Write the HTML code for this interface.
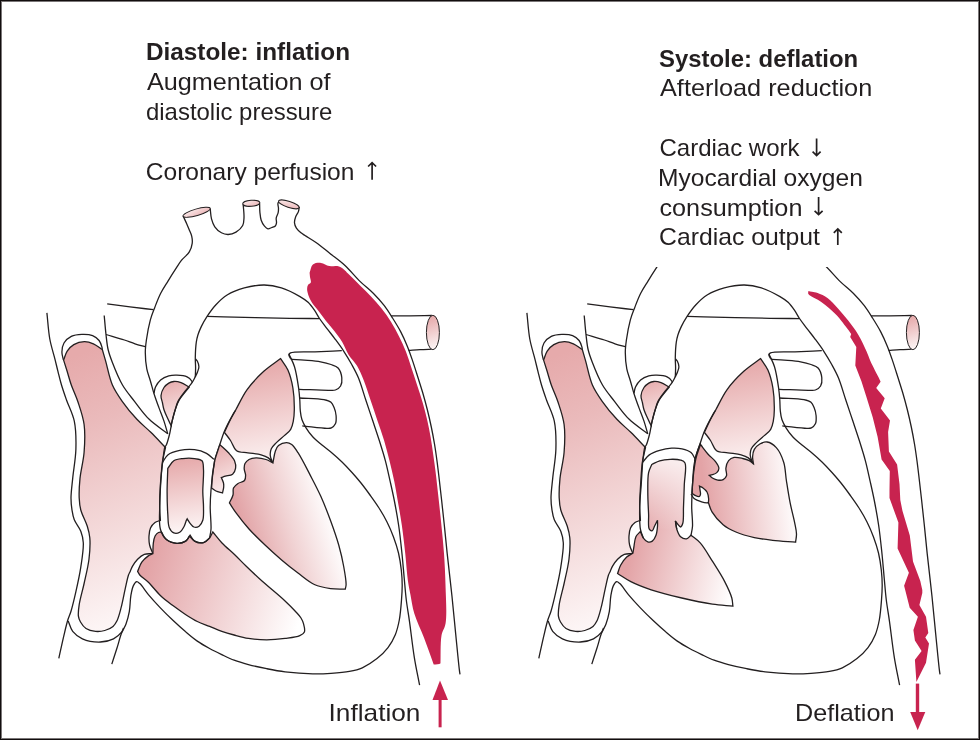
<!DOCTYPE html>
<html><head><meta charset="utf-8">
<style>
html,body{margin:0;padding:0;background:#fff;}
body{width:980px;height:740px;overflow:hidden;position:relative;font-family:"Liberation Sans",sans-serif;color:#231f20;}
#frame{position:absolute;left:0;top:0;width:978px;height:738px;border:1px solid #120d0e;box-shadow:inset 0 0 0 1px #7a7677;}
svg{position:absolute;left:0;top:0;will-change:transform;}
</style></head><body>
<svg width="980" height="740" viewBox="0 0 980 740">
<defs>
<linearGradient id="gRA" gradientUnits="userSpaceOnUse" x1="65" y1="360" x2="165" y2="610"><stop offset="0" stop-color="#e6aaab"/><stop offset="0.25" stop-color="#eababb"/><stop offset="1" stop-color="#fdf7f7"/></linearGradient>
<linearGradient id="gRV" gradientUnits="userSpaceOnUse" x1="145" y1="570" x2="300" y2="620"><stop offset="0" stop-color="#e3a3a6"/><stop offset="1" stop-color="#ffffff"/></linearGradient>
<linearGradient id="gLV" gradientUnits="userSpaceOnUse" x1="238" y1="512" x2="324" y2="486"><stop offset="0" stop-color="#e2a3a6"/><stop offset="0.5" stop-color="#f1d3d4"/><stop offset="1" stop-color="#ffffff"/></linearGradient>
<linearGradient id="gLA" gradientUnits="userSpaceOnUse" x1="262" y1="365" x2="280" y2="462"><stop offset="0" stop-color="#e6aaab"/><stop offset="1" stop-color="#fcf3f3"/></linearGradient>
<linearGradient id="gP2" gradientUnits="userSpaceOnUse" x1="215" y1="445" x2="235" y2="490"><stop offset="0" stop-color="#e6aaab"/><stop offset="1" stop-color="#fbf0f0"/></linearGradient>
<linearGradient id="gAV" gradientUnits="userSpaceOnUse" x1="180" y1="460" x2="190" y2="532"><stop offset="0" stop-color="#e6aaab"/><stop offset="1" stop-color="#fdf6f6"/></linearGradient>
<linearGradient id="gAPP" gradientUnits="userSpaceOnUse" x1="165" y1="380" x2="178" y2="425"><stop offset="0" stop-color="#e6aaab"/><stop offset="1" stop-color="#fbf0f0"/></linearGradient>
<linearGradient id="gCap" gradientUnits="userSpaceOnUse" x1="428" y1="318" x2="438" y2="348"><stop offset="0" stop-color="#e6aaab"/><stop offset="1" stop-color="#fdf6f6"/></linearGradient>
<linearGradient id="gRV2" gradientUnits="userSpaceOnUse" x1="625" y1="575" x2="730" y2="600"><stop offset="0" stop-color="#e3a3a6"/><stop offset="1" stop-color="#ffffff"/></linearGradient>
<linearGradient id="gValveTop" gradientUnits="userSpaceOnUse" x1="0" y1="462" x2="0" y2="530"><stop offset="0" stop-color="#ffffff" stop-opacity="0.75"/><stop offset="1" stop-color="#ffffff" stop-opacity="0"/></linearGradient>
<linearGradient id="gLV2" gradientUnits="userSpaceOnUse" x1="705" y1="500" x2="795" y2="490"><stop offset="0" stop-color="#e3a3a6"/><stop offset="1" stop-color="#ffffff"/></linearGradient>
<linearGradient id="gTop1" gradientUnits="objectBoundingBox" x1="0" y1="0" x2="1" y2="1"><stop offset="0" stop-color="#fcf0f0"/><stop offset="1" stop-color="#eab0b2"/></linearGradient>
<linearGradient id="gTop2" gradientUnits="objectBoundingBox" x1="0" y1="0" x2="1" y2="1"><stop offset="0" stop-color="#fcf0f0"/><stop offset="1" stop-color="#eab0b2"/></linearGradient>
<linearGradient id="gTop3" gradientUnits="objectBoundingBox" x1="0" y1="0" x2="1" y2="1"><stop offset="0" stop-color="#fcf0f0"/><stop offset="1" stop-color="#eab0b2"/></linearGradient>

<clipPath id="clipR"><rect x="480" y="267" width="500" height="480"/></clipPath>
</defs>
<g id="common">
<path d="M63.60 360.10C64.80 357.10 65.47 353.70 67.20 351.10C68.89 348.55 71.10 346.15 73.80 344.60C76.74 342.91 81.00 341.76 84.40 341.70C87.51 341.64 90.51 342.58 93.40 343.80C96.49 345.10 99.33 347.60 102.30 349.50C103.40 353.30 104.31 356.39 105.60 360.90C107.47 367.44 109.34 377.93 112.40 385.00C115.07 391.16 118.38 395.87 122.20 401.30C126.42 407.30 131.88 413.94 136.90 419.30C141.44 424.15 146.16 427.74 150.80 432.30C155.69 437.11 160.60 442.43 165.50 447.50C164.47 452.33 163.17 456.78 162.40 462.00C161.52 468.02 161.23 474.65 160.80 481.60C160.31 489.49 159.67 499.78 159.70 506.90C159.72 512.10 160.17 515.90 160.40 520.40C158.60 521.10 156.59 521.35 155.00 522.50C153.24 523.78 151.50 525.85 150.50 528.00C149.43 530.30 149.16 533.24 149.00 536.00C148.83 538.90 148.96 542.07 149.60 545.00C150.25 547.97 151.80 550.80 152.90 553.70C150.03 553.90 146.87 553.36 144.30 554.30C141.78 555.22 139.53 557.27 137.60 559.20C135.67 561.13 133.98 563.71 132.70 565.90C131.61 567.77 131.03 569.57 130.20 571.40C129.63 572.60 129.07 573.37 128.50 575.00C127.42 578.09 126.34 583.91 125.20 588.90C123.88 594.69 122.61 602.04 121.10 607.70C119.83 612.46 118.66 617.34 117.00 620.70C115.82 623.10 114.82 624.83 113.00 626.40C110.91 628.20 107.70 629.67 104.80 630.50C101.87 631.34 98.59 631.71 95.50 631.40C92.32 631.08 88.55 630.18 86.00 628.50C83.64 626.94 81.79 624.23 80.50 622.00C79.40 620.08 78.72 618.43 78.40 616.10C77.97 612.96 78.55 609.06 79.20 604.70C80.10 598.69 82.52 590.83 84.10 583.50C85.79 575.64 88.07 566.91 89.00 559.00C89.86 551.71 90.33 543.77 89.80 537.80C89.41 533.36 88.56 530.41 87.30 526.30C85.77 521.28 82.13 515.10 80.80 510.00C79.69 505.77 79.41 502.50 79.20 498.00C78.94 492.27 79.31 485.39 80.00 478.40C80.80 470.28 83.41 461.08 84.10 452.20C84.81 443.12 85.26 433.18 84.10 424.50C83.04 416.54 80.29 408.92 78.00 402.00C75.97 395.88 73.17 390.38 71.30 385.00C69.65 380.28 68.53 375.81 67.20 371.50C65.97 367.54 64.80 363.90 63.60 360.10Z" fill="url(#gRA)" stroke="#231f20" stroke-width="1.3" />
<path d="M63.40 360.00C62.90 357.30 61.83 354.66 61.90 351.90C61.97 349.00 62.49 345.55 64.00 343.00C65.56 340.35 68.41 337.84 71.30 336.40C74.33 334.90 78.35 334.53 81.90 334.40C85.45 334.27 89.61 334.41 92.60 335.60C95.20 336.64 97.54 338.51 99.10 340.50C100.56 342.36 101.41 345.32 101.90 347.00C102.19 348.01 102.17 348.67 102.30 349.50" fill="none" stroke="#231f20" stroke-width="1.3" />
<path d="M280.60 358.60C283.03 362.40 285.93 365.60 287.90 370.00C290.21 375.17 291.83 381.64 292.90 388.00C294.07 394.91 294.38 403.91 294.30 410.00C294.24 414.33 293.98 417.71 293.30 421.10C292.70 424.08 292.15 426.92 290.70 429.30C289.25 431.69 286.82 433.32 284.60 435.40C282.10 437.74 278.73 440.21 276.40 442.60C274.41 444.64 272.31 446.43 271.30 448.70C270.34 450.85 270.06 453.45 270.30 455.80C270.55 458.22 272.03 460.60 272.90 463.00C271.37 461.30 270.18 459.25 268.30 457.90C266.29 456.46 263.92 455.61 261.10 454.80C257.42 453.75 252.12 453.51 247.90 452.80C243.98 452.14 239.49 452.71 236.60 450.70C233.66 448.66 232.62 443.67 230.50 440.50C228.54 437.56 226.43 435.03 224.40 432.30C226.27 428.37 228.07 424.29 230.00 420.50C231.84 416.87 233.46 414.07 235.70 410.00C238.83 404.31 242.53 395.94 247.10 389.60C251.76 383.12 257.72 376.89 263.50 371.60C268.93 366.64 274.90 362.93 280.60 358.60Z" fill="url(#gLA)" stroke="#231f20" stroke-width="1.3" />
<path d="M189.20 387.10C186.47 385.60 183.72 383.52 181.00 382.60C178.62 381.79 176.05 381.34 173.90 381.50C172.04 381.64 170.38 382.19 168.80 383.10C167.06 384.11 165.26 385.63 164.00 387.50C162.55 389.66 161.21 392.93 161.00 395.60C160.81 398.09 162.00 400.61 162.50 403.00C162.97 405.24 163.18 407.22 163.90 409.50C164.75 412.18 166.26 415.24 167.50 418.00C168.70 420.67 169.97 423.20 171.20 425.80C171.47 424.43 171.60 423.42 172.00 421.70C172.70 418.71 174.00 413.30 175.30 409.50C176.50 406.01 177.45 403.04 179.40 399.70C181.79 395.61 185.93 391.30 189.20 387.10Z" fill="url(#gAPP)" stroke="#231f20" stroke-width="1.3" />
<path d="M154.00 393.30C154.50 391.23 154.56 389.15 155.50 387.10C156.60 384.70 158.42 381.86 160.60 380.00C162.83 378.10 166.00 376.69 168.80 375.90C171.44 375.16 174.05 375.09 176.90 375.20C180.11 375.33 184.50 375.65 187.10 376.90C189.11 377.86 190.96 379.86 191.70 381.00C192.08 381.59 192.03 382.07 192.20 382.60" fill="none" stroke="#231f20" stroke-width="1.3" />
<path d="M167.80 434.00C166.50 429.63 165.36 425.23 163.90 420.90C162.43 416.53 160.61 412.31 159.00 407.90C157.34 403.35 155.56 398.58 154.10 394.00C152.70 389.62 151.64 385.26 150.40 381.00C149.20 376.87 147.64 373.21 146.80 368.80C145.84 363.78 145.31 357.49 145.30 352.40C145.29 347.98 145.75 344.60 146.40 340.00C147.23 334.13 148.73 325.88 150.30 320.10C151.56 315.49 152.97 312.13 154.60 307.90C156.40 303.23 158.39 297.87 160.70 293.30C162.89 288.97 165.45 285.25 168.00 281.10C170.70 276.72 174.03 271.48 176.50 267.70C178.34 264.89 179.46 262.85 181.40 260.40C183.63 257.59 187.48 254.94 189.30 251.90C190.90 249.23 191.84 246.16 192.20 243.40C192.53 240.91 192.22 238.39 191.70 236.10C191.21 233.94 190.11 232.00 189.30 230.00C188.51 228.04 187.80 226.25 186.90 224.20C185.86 221.83 184.57 219.13 183.40 216.60" fill="none" stroke="#231f20" stroke-width="1.3" />
<path d="M210.20 208.60C210.63 212.03 210.66 215.75 211.50 218.90C212.26 221.76 213.18 224.50 214.80 226.80C216.46 229.15 219.02 231.52 221.40 232.80C223.49 233.93 225.78 234.55 228.10 234.50C230.63 234.44 233.63 233.51 236.00 232.10C238.53 230.59 241.38 228.04 242.70 225.50C243.91 223.16 243.85 220.57 244.00 217.60C244.19 213.79 243.47 208.87 243.20 204.50" fill="none" stroke="#231f20" stroke-width="1.3" />
<path d="M259.60 203.60C259.70 206.47 259.62 209.39 259.90 212.20C260.17 214.92 260.37 217.79 261.20 220.20C261.96 222.42 263.21 224.70 264.50 226.20C265.52 227.38 266.67 228.59 267.90 228.80C269.11 229.00 270.54 227.98 271.80 227.50C273.01 227.04 274.52 226.81 275.30 226.00C276.03 225.24 276.32 224.06 276.50 222.90C276.71 221.52 275.98 219.79 276.20 218.20C276.45 216.46 277.72 214.63 278.10 212.90C278.44 211.34 278.53 209.85 278.50 208.30C278.47 206.72 277.67 204.73 277.90 203.50C278.06 202.66 278.63 202.17 279.00 201.50" fill="none" stroke="#231f20" stroke-width="1.3" />
<path d="M299.30 206.90C299.00 208.47 298.95 210.02 298.40 211.60C297.78 213.38 296.25 215.11 295.60 217.00C294.95 218.88 294.35 221.01 294.50 222.90C294.65 224.73 295.38 226.60 296.40 228.20C297.49 229.92 299.46 231.53 301.00 232.80C302.33 233.89 303.33 234.40 305.00 235.50C307.75 237.30 312.18 239.80 316.00 242.50C320.46 245.66 325.26 249.74 330.00 253.50C334.92 257.40 340.15 261.03 345.00 265.50C350.17 270.27 355.03 276.56 360.00 281.40C364.53 285.81 369.36 289.34 373.50 293.50C377.42 297.45 381.08 301.53 384.30 305.70C387.34 309.64 389.75 313.61 392.40 317.80C395.16 322.17 398.03 326.70 400.50 331.40C403.00 336.16 405.26 341.22 407.30 346.20C409.32 351.12 410.97 356.04 412.70 361.10C414.47 366.30 416.12 371.69 417.80 377.00C419.49 382.32 421.22 387.57 422.80 393.00C424.42 398.57 425.98 404.32 427.40 410.00C428.81 415.65 430.11 421.32 431.30 427.00C432.48 432.66 433.55 438.32 434.50 444.00C435.45 449.66 436.23 455.25 437.00 461.00C437.80 466.91 438.46 472.77 439.20 479.00C440.00 485.73 440.79 492.69 441.60 500.00C442.49 507.97 443.40 516.38 444.30 525.00C445.26 534.21 446.08 543.11 447.20 553.60C448.57 566.46 450.56 582.77 452.00 596.50C453.33 609.15 454.38 620.84 455.60 633.00C456.82 645.14 458.50 662.89 459.30 669.40C459.59 671.79 459.77 672.67 460.00 674.30" fill="none" stroke="#231f20" stroke-width="1.3" />
<path d="M195.30 376.90C195.40 373.93 195.59 371.08 195.60 368.00C195.61 364.67 195.23 361.40 195.30 357.60C195.38 352.97 195.71 346.35 196.30 342.20C196.71 339.33 197.13 337.47 197.90 335.00C198.77 332.23 199.98 329.33 201.40 326.40C202.98 323.14 204.88 319.77 207.10 316.40C209.57 312.65 212.43 308.52 215.70 305.00C219.07 301.37 222.65 297.77 227.10 295.00C232.03 291.94 238.24 289.56 244.30 287.90C250.61 286.17 257.90 284.92 264.30 285.00C270.23 285.07 275.70 286.12 281.40 287.90C287.60 289.84 295.16 293.80 300.00 296.60C303.36 298.55 305.69 300.04 308.10 302.30C310.57 304.62 312.67 307.63 314.60 310.40C316.45 313.04 317.63 315.72 319.50 318.50C321.63 321.66 324.29 324.99 326.80 328.30C329.42 331.75 332.19 335.16 334.90 338.80C337.76 342.64 340.76 346.62 343.50 350.80C346.33 355.11 349.10 359.75 351.60 364.30C354.05 368.76 356.26 372.66 358.40 377.80C361.06 384.20 363.38 392.77 365.80 400.00C368.11 406.92 370.35 413.54 372.60 420.30C374.85 427.04 377.16 433.74 379.30 440.50C381.43 447.24 383.59 454.00 385.40 460.80C387.19 467.54 388.61 474.45 390.10 481.10C391.54 487.51 392.87 493.25 394.20 500.00C395.72 507.74 397.35 516.49 398.60 525.00C399.90 533.81 400.86 543.08 401.80 552.00C402.72 560.74 403.42 569.70 404.20 578.00C404.92 585.64 405.42 592.78 406.30 600.00C407.16 607.04 408.28 612.89 409.40 620.80C410.88 631.26 412.47 645.97 414.30 657.30C415.91 667.25 417.83 675.90 419.60 685.20" fill="none" stroke="#231f20" stroke-width="1.3" />
<path d="M195.50 359.00C196.17 359.83 196.97 360.45 197.50 361.50C198.19 362.86 198.90 364.96 198.90 366.70C198.90 368.46 198.10 370.29 197.50 372.00C196.90 373.69 196.03 375.27 195.30 376.90" fill="none" stroke="#231f20" stroke-width="1.3" />
<path d="M195.30 376.90C194.10 378.97 193.18 380.96 191.70 383.10C189.91 385.69 187.29 388.30 185.10 391.20C182.72 394.36 179.67 398.08 178.00 401.40C176.62 404.15 176.20 406.51 175.30 409.50C174.20 413.14 172.95 417.61 172.00 421.70C171.05 425.77 170.58 430.04 169.60 434.00C168.66 437.79 167.34 442.85 166.30 445.00C165.82 445.99 165.32 445.95 164.90 447.00C163.84 449.65 163.37 457.20 162.60 462.30" fill="none" stroke="#231f20" stroke-width="1.3" />
<path d="M235.70 410.00C234.67 411.67 233.82 412.82 232.60 415.00C230.45 418.84 226.61 426.07 224.40 431.30C222.46 435.89 221.30 440.20 219.80 444.60C218.33 448.93 216.41 454.55 215.50 457.50C215.03 459.03 214.83 459.83 214.50 461.00" fill="none" stroke="#231f20" stroke-width="1.3" />
<path d="M104.20 315.50C104.80 321.83 105.30 328.55 106.00 334.50C106.62 339.80 107.01 344.80 108.10 349.50C109.10 353.82 110.30 357.03 112.10 361.70C114.64 368.28 118.49 378.11 122.50 385.00C126.07 391.13 130.22 395.79 134.50 401.30C139.08 407.21 143.69 413.93 149.20 419.30C154.70 424.66 161.40 428.77 167.50 433.50" fill="none" stroke="#231f20" stroke-width="1.3" />
<path d="M46.90 312.90C47.87 321.60 48.32 330.89 49.80 339.00C51.12 346.24 53.52 353.37 55.00 359.30C56.15 363.91 56.94 367.42 58.00 371.60C59.10 375.98 60.14 380.43 61.50 385.00C62.95 389.88 64.60 394.58 66.50 400.00C68.77 406.47 72.70 413.53 74.30 421.20C76.07 429.72 76.14 439.61 75.90 449.00C75.65 458.67 73.56 469.59 72.70 478.40C72.00 485.59 71.01 492.26 71.00 498.00C70.99 502.49 71.40 506.22 72.00 510.00C72.55 513.45 73.01 516.50 74.30 519.80C75.78 523.56 79.29 527.27 80.80 531.20C82.23 534.92 83.04 538.13 83.30 542.70C83.67 549.30 82.02 558.99 80.80 567.10C79.56 575.29 77.63 583.91 75.90 591.60C74.34 598.52 72.59 605.99 71.00 611.20C69.91 614.75 68.85 616.59 67.80 620.00C66.40 624.57 65.09 630.44 63.70 636.30C62.09 643.10 60.43 651.03 58.80 658.40" fill="none" stroke="#231f20" stroke-width="1.3" />
<path d="M68.20 621.00C69.70 624.47 70.41 628.47 72.70 631.40C75.08 634.44 78.42 637.05 82.40 638.80C87.28 640.94 94.89 642.18 100.40 642.00C105.13 641.85 109.82 640.63 113.50 638.80C116.74 637.19 119.95 634.34 121.60 632.20C122.70 630.78 122.87 629.40 123.50 628.00" fill="none" stroke="#231f20" stroke-width="1.3" />
<path d="M111.80 664.10C113.53 658.73 115.34 653.27 117.00 648.00C118.60 642.94 119.91 637.40 121.60 633.10C122.96 629.64 124.76 627.33 126.00 624.00C127.39 620.27 128.50 616.12 129.30 611.70C130.21 606.68 130.07 600.12 130.90 595.40C131.55 591.69 132.15 588.03 133.40 585.60C134.29 583.88 135.53 581.89 136.70 581.70C137.69 581.54 138.62 582.55 139.80 583.60C142.11 585.66 145.21 590.80 148.40 594.60C152.04 598.93 156.46 603.77 160.60 608.10C164.63 612.33 168.76 616.39 172.90 620.30C176.93 624.11 180.98 627.80 185.10 631.30C189.12 634.72 193.12 638.19 197.30 641.10C201.30 643.89 205.46 646.23 209.60 648.50C213.63 650.72 217.71 652.65 221.80 654.60C225.87 656.55 229.79 658.56 234.10 660.20C238.63 661.92 243.31 663.25 248.40 664.60C254.10 666.11 260.58 667.50 266.70 668.70C272.81 669.90 278.33 670.99 285.10 671.80C293.35 672.79 304.44 673.61 312.70 673.80C319.42 673.95 324.90 673.70 331.00 673.30C337.13 672.90 343.85 672.45 349.40 671.40C354.12 670.50 358.00 669.70 362.30 667.80C367.20 665.64 372.63 662.08 377.00 658.60C381.14 655.30 384.93 651.64 388.00 647.60C391.00 643.66 393.42 639.26 395.30 634.70C397.20 630.07 398.29 625.32 399.30 620.00C400.46 613.89 401.02 606.20 401.50 600.00C401.92 594.65 402.23 590.00 402.20 585.00C402.17 580.00 401.88 575.14 401.30 570.00C400.68 564.50 399.81 558.54 398.50 553.00C397.20 547.54 395.43 542.20 393.50 537.00C391.59 531.87 389.43 526.85 387.00 522.00C384.59 517.18 381.85 512.52 379.00 508.00C376.18 503.52 373.04 499.22 370.00 495.00C367.04 490.89 364.06 486.82 361.00 483.00C358.06 479.33 355.13 475.96 352.00 472.50C348.80 468.96 345.40 465.30 342.00 462.00C338.73 458.82 335.38 455.86 332.00 453.00C328.71 450.20 325.24 447.72 322.00 445.00C318.81 442.32 315.39 439.72 312.70 436.80C310.18 434.07 308.04 431.08 306.20 428.10C304.47 425.30 302.89 422.45 301.90 419.50C300.95 416.67 300.65 413.87 300.30 410.80C299.91 407.41 300.07 403.69 299.80 400.00C299.52 396.10 299.26 392.55 298.60 388.00C297.71 381.89 296.41 372.84 294.50 366.70C292.96 361.74 290.70 358.03 288.80 353.70" fill="none" stroke="#231f20" stroke-width="1.3" />
<path d="M107.20 303.90C114.80 304.87 122.35 305.84 130.00 306.80C137.75 307.77 145.60 308.73 153.40 309.70" fill="none" stroke="#231f20" stroke-width="1.3" />
<path d="M207.10 316.40C223.17 316.80 240.55 317.27 255.30 317.60C267.81 317.88 278.92 318.13 290.00 318.30C300.18 318.45 309.53 318.50 319.30 318.60" fill="none" stroke="#231f20" stroke-width="1.3" />
<path d="M391.10 315.80C397.40 315.80 403.46 315.84 410.00 315.80C417.06 315.75 424.67 315.60 432.00 315.50" fill="none" stroke="#231f20" stroke-width="1.3" />
<path d="M106.00 334.50C112.13 336.33 119.13 338.27 124.40 340.00C128.44 341.33 131.43 342.67 135.00 343.80C138.56 344.93 142.20 345.80 145.80 346.80" fill="none" stroke="#231f20" stroke-width="1.3" />
<path d="M290.50 358.50C289.97 357.33 288.79 355.99 288.90 355.00C288.99 354.18 289.44 353.46 290.50 352.90C293.74 351.20 306.65 352.16 315.00 351.80C323.73 351.42 332.87 351.07 341.80 350.70" fill="none" stroke="#231f20" stroke-width="1.3" />
<path d="M408.60 350.30C412.40 350.07 416.11 349.78 420.00 349.60C424.07 349.41 428.33 349.33 432.50 349.20" fill="none" stroke="#231f20" stroke-width="1.3" />
<ellipse cx="432.9" cy="332.5" rx="6.5" ry="17.2" fill="url(#gCap)" stroke="#231f20" stroke-width="1"/>
<path d="M292.00 359.40C296.10 359.67 299.92 359.84 304.30 360.20C309.35 360.61 315.80 360.95 320.60 361.80C324.48 362.49 327.92 363.35 331.00 364.50C333.65 365.48 336.34 366.06 338.10 368.00C340.13 370.24 341.46 374.64 341.80 377.80C342.10 380.61 341.82 383.92 340.60 386.00C339.52 387.85 337.36 389.28 335.40 390.00C333.43 390.72 331.79 390.28 328.80 390.30C322.44 390.34 308.93 389.63 299.00 389.30" fill="none" stroke="#231f20" stroke-width="1.3" />
<path d="M299.20 398.00C307.43 398.57 318.21 398.49 323.90 399.70C327.04 400.37 329.28 400.86 331.00 402.30C332.55 403.60 333.28 405.58 334.10 407.60C335.06 409.96 335.89 412.98 336.10 415.70C336.31 418.38 336.38 421.70 335.40 423.80C334.58 425.55 332.91 427.07 331.40 427.80C330.07 428.44 329.06 428.29 327.00 428.30C322.11 428.33 310.53 426.63 302.30 425.80" fill="none" stroke="#231f20" stroke-width="1.3" />
<path d="M290.50 358.50C291.00 358.80 291.50 359.10 292.00 359.40" fill="none" stroke="#231f20" stroke-width="1.3" />
<ellipse cx="196.6" cy="212.3" rx="14.2" ry="3.3" transform="rotate(-16.2 196.6 212.3)" fill="url(#gTop1)" stroke="#231f20" stroke-width="1"/>
<ellipse cx="251.3" cy="203.3" rx="8.6" ry="3" transform="rotate(-4 251.3 203.3)" fill="url(#gTop2)" stroke="#231f20" stroke-width="1"/>
<ellipse cx="288.8" cy="204.3" rx="10.8" ry="3" transform="rotate(17.8 288.8 204.3)" fill="url(#gTop3)" stroke="#231f20" stroke-width="1"/>

</g>
<path d="M152.90 553.70C151.27 554.50 149.63 554.94 148.00 556.10C145.94 557.56 143.50 559.78 141.80 562.20C139.97 564.81 139.00 568.33 137.60 571.40C138.33 572.60 138.68 573.69 139.80 575.00C141.63 577.14 145.39 579.38 148.40 582.30C152.23 586.01 156.36 591.81 160.60 595.80C164.55 599.51 168.76 602.50 172.90 605.60C176.93 608.62 180.98 611.52 185.10 614.20C189.12 616.81 193.14 619.44 197.30 621.50C201.31 623.48 205.51 624.76 209.60 626.40C213.68 628.03 217.69 629.86 221.80 631.30C225.86 632.72 229.83 633.85 234.10 635.00C238.67 636.23 243.31 637.60 248.40 638.40C254.09 639.29 260.59 639.80 266.70 639.80C272.82 639.80 279.33 639.17 285.10 638.40C290.30 637.71 296.41 637.17 299.80 635.60C301.93 634.62 303.69 633.63 304.40 631.90C305.24 629.86 304.15 626.14 303.50 623.70C302.93 621.58 302.14 619.85 301.00 618.00C299.72 615.93 298.09 614.29 296.00 612.00C292.92 608.63 288.69 604.36 284.00 600.00C277.86 594.29 268.69 587.02 262.00 581.00C256.18 575.77 250.80 570.65 246.00 566.00C241.96 562.08 238.86 558.71 235.00 555.00C230.89 551.05 225.85 547.04 222.00 543.00C218.54 539.36 215.87 535.67 212.80 532.00C211.70 534.03 211.00 536.36 209.50 538.10C207.94 539.91 205.84 542.03 203.50 542.60C200.94 543.22 196.88 542.48 194.60 541.10C192.53 539.85 191.60 537.17 190.10 535.20C188.63 537.17 187.73 539.75 185.70 541.10C183.43 542.60 179.86 543.45 176.80 543.30C173.44 543.13 168.99 541.66 166.40 539.60C164.05 537.74 163.13 534.53 161.50 532.00C160.50 532.17 159.45 532.00 158.50 532.50C157.29 533.13 155.94 534.48 155.10 536.00C154.05 537.89 153.68 540.63 153.30 543.30C152.86 546.44 153.03 550.23 152.90 553.70Z" fill="url(#gRV)" stroke="#231f20" stroke-width="1.3" />
<path d="M229.40 502.90C230.60 500.27 232.33 497.61 233.00 495.00C233.60 492.65 232.61 489.94 233.50 488.00C234.35 486.15 236.24 484.73 238.00 483.50C239.87 482.20 243.26 482.07 244.50 480.50C245.59 479.11 245.63 476.87 245.60 475.00C245.57 473.04 244.28 470.96 244.20 469.00C244.12 467.13 244.21 465.08 245.00 463.50C245.80 461.91 247.32 460.43 249.00 459.50C250.89 458.45 253.45 457.98 256.00 457.90C259.03 457.80 263.04 458.54 266.00 459.50C268.59 460.34 270.60 461.83 272.90 463.00C273.73 459.00 274.21 454.14 275.40 451.00C276.25 448.76 276.89 446.96 278.50 445.60C280.40 443.99 284.21 442.58 286.60 442.60C288.50 442.62 290.07 443.38 291.70 444.60C293.93 446.27 295.71 449.21 298.00 452.70C301.60 458.20 306.34 467.70 310.20 475.10C313.92 482.23 317.48 488.91 320.80 496.30C324.30 504.10 327.59 512.59 330.60 520.80C333.58 528.92 336.56 537.38 338.80 545.30C340.85 552.57 342.46 559.69 343.70 566.50C344.83 572.72 346.18 580.47 346.10 584.50C346.06 586.54 345.57 587.57 345.30 589.10C340.40 588.93 335.59 589.30 330.60 588.60C325.27 587.85 319.52 586.89 314.30 584.50C308.62 581.91 303.38 577.12 298.00 573.10C292.48 568.97 286.99 564.58 281.60 560.00C276.09 555.32 270.67 550.40 265.30 545.30C259.80 540.08 254.00 534.57 249.00 529.00C244.24 523.69 239.42 517.52 235.90 512.70C233.26 509.09 231.57 506.17 229.40 502.90Z" fill="url(#gLV)" stroke="#231f20" stroke-width="1.3" />
<path d="M219.80 444.60C222.70 447.33 225.96 449.96 228.50 452.80C230.84 455.41 233.45 458.13 234.60 460.90C235.57 463.25 235.96 465.85 235.60 468.10C235.25 470.27 234.23 472.85 232.60 474.20C230.89 475.62 227.46 475.59 225.40 476.20C223.84 476.66 222.67 477.07 221.30 477.50C222.03 479.33 223.12 481.28 223.50 483.00C223.81 484.41 223.81 485.54 223.70 487.00C223.57 488.81 222.90 491.00 222.50 493.00C220.33 492.33 217.90 491.91 216.00 491.00C214.32 490.19 213.07 489.00 211.60 488.00C211.83 484.07 211.89 480.07 212.30 476.20C212.70 472.41 213.45 468.17 214.00 465.00C214.41 462.66 214.57 461.34 215.20 458.90C216.18 455.11 218.27 449.37 219.80 444.60Z" fill="url(#gP2)" stroke="#231f20" stroke-width="1.3" />
<path d="M167.80 468.30C169.80 465.80 171.28 462.42 173.80 460.80C176.27 459.22 179.49 458.99 182.70 458.60C186.35 458.16 191.13 458.10 194.60 458.60C197.39 459.01 200.50 459.10 202.00 460.80C203.63 462.64 203.25 466.05 203.50 469.70C203.89 475.44 202.75 485.31 202.80 492.00C202.84 497.47 203.51 502.07 203.50 506.90C203.49 511.49 203.89 516.84 202.80 520.30C202.01 522.79 200.74 525.12 199.10 526.20C197.67 527.14 195.40 527.48 193.90 527.00C192.40 526.52 191.21 524.66 190.10 523.30C188.98 521.93 188.17 520.30 187.20 518.80C186.93 519.30 186.71 519.62 186.40 520.30C185.81 521.61 185.24 524.30 184.20 526.20C183.07 528.28 181.58 531.12 179.70 532.20C178.03 533.16 175.49 533.56 173.80 532.90C171.98 532.20 170.32 530.04 169.30 527.70C167.87 524.42 168.16 519.34 167.80 514.30C167.34 507.82 167.11 499.55 167.10 492.00C167.09 484.22 167.57 476.20 167.80 468.30Z" fill="url(#gAV)" stroke="#231f20" stroke-width="1.3" />
<path d="M214.50 461.00C213.83 466.07 213.09 471.25 212.50 476.20C211.93 480.91 211.38 485.16 211.00 490.00C210.58 495.34 210.23 500.88 210.20 506.90C210.16 513.82 211.38 523.46 211.00 529.20C210.76 532.85 210.00 535.13 209.50 538.10" fill="none" stroke="#231f20" stroke-width="1.3" />
<path d="M162.60 462.30C161.87 469.73 160.88 477.16 160.40 484.60C159.92 492.03 159.70 499.47 159.70 506.90C159.70 514.33 158.73 523.33 160.40 529.20C161.63 533.51 163.58 537.25 166.40 539.60C169.11 541.86 173.44 543.13 176.80 543.30C179.86 543.45 183.52 542.55 185.70 541.10C187.51 539.89 188.23 537.70 189.50 536.00" fill="none" stroke="#231f20" stroke-width="1.3" />
<path d="M189.50 536.00C191.20 537.70 192.45 539.99 194.60 541.10C197.00 542.34 200.94 543.22 203.50 542.60C205.84 542.03 207.50 539.60 209.50 538.10" fill="none" stroke="#231f20" stroke-width="1.3" />
<path d="M162.60 462.30C164.33 459.83 165.33 456.82 167.80 454.90C170.73 452.63 175.44 451.28 179.70 450.40C184.32 449.44 189.96 449.11 194.60 449.70C198.84 450.24 203.14 451.62 206.50 453.40C209.43 454.95 211.43 457.33 213.90 459.30" fill="none" stroke="#231f20" stroke-width="1.3" />

<g clip-path="url(#clipR)"><use href="#common" x="480" y="0"/>
<path d="M651.80 464.50C654.43 463.27 656.82 461.66 659.70 460.80C662.86 459.85 666.62 459.42 670.10 459.30C673.59 459.18 677.94 459.19 680.60 460.10C682.48 460.74 684.06 461.18 685.00 463.00C686.91 466.69 684.55 477.34 684.30 484.60C684.05 491.97 683.77 500.04 683.50 506.90C683.27 512.79 683.83 519.86 682.80 523.30C682.27 525.06 681.47 526.89 680.60 527.00C679.74 527.11 678.49 525.04 677.60 524.00C676.77 523.03 676.13 522.00 675.40 521.00C675.87 523.73 675.94 526.59 676.80 529.20C677.67 531.82 678.79 535.09 680.60 536.70C682.16 538.10 684.74 539.19 686.50 538.90C688.19 538.62 689.50 536.43 691.00 535.20C694.07 537.77 697.16 539.51 700.20 542.90C704.32 547.49 708.40 554.89 712.40 561.20C716.57 567.77 721.33 575.06 724.70 581.60C727.62 587.26 730.52 593.41 731.80 598.00C732.66 601.10 732.53 603.40 732.90 606.10C726.07 605.43 719.89 605.21 712.40 604.10C703.19 602.74 691.96 600.37 681.80 598.00C671.56 595.61 660.29 592.83 651.20 589.80C643.63 587.27 636.75 584.60 630.80 581.60C625.80 579.09 622.00 576.20 617.60 573.50C618.60 570.77 619.18 567.93 620.60 565.30C622.14 562.45 624.45 559.20 626.70 557.10C628.61 555.31 630.83 554.43 632.90 553.10C633.23 551.03 633.49 549.22 633.90 546.90C634.43 543.92 634.58 539.40 635.90 536.70C636.97 534.50 638.90 533.23 640.40 531.50C641.40 533.70 642.06 536.31 643.40 538.10C644.60 539.70 646.21 541.46 647.80 541.90C649.21 542.29 651.02 541.96 652.30 541.10C653.87 540.04 655.14 537.47 656.00 535.20C656.99 532.60 657.28 528.89 657.50 526.20C657.68 524.03 657.50 522.27 657.50 520.30C656.50 522.27 655.42 524.36 654.50 526.20C653.70 527.80 653.30 530.36 652.30 530.70C651.48 530.98 650.01 530.30 649.30 529.20C647.79 526.89 648.83 519.77 648.60 514.30C648.32 507.61 647.78 499.16 647.80 492.00C647.82 485.33 647.55 477.71 648.60 472.70C649.31 469.32 650.73 467.23 651.80 464.50Z" fill="url(#gRV2)" stroke="none" stroke-width="1.3" />
<path d="M649.50 530.00C646.71 527.03 648.87 519.99 648.60 514.30C648.28 507.52 647.78 499.16 647.80 492.00C647.82 485.33 647.55 477.71 648.60 472.70C649.31 469.32 649.94 466.48 651.80 464.50C653.65 462.52 656.82 461.66 659.70 460.80C662.86 459.85 666.62 459.42 670.10 459.30C673.59 459.18 677.94 459.19 680.60 460.10C682.48 460.74 684.06 461.18 685.00 463.00C686.91 466.69 684.55 477.34 684.30 484.60C684.05 491.97 683.72 499.85 683.50 506.90C683.30 513.25 685.88 520.82 683.00 525.00C680.09 529.21 671.73 531.22 666.00 532.00C660.55 532.74 652.37 533.06 649.50 530.00Z" fill="url(#gValveTop)"/>
<path d="M651.80 464.50C654.43 463.27 656.82 461.66 659.70 460.80C662.86 459.85 666.62 459.42 670.10 459.30C673.59 459.18 677.94 459.19 680.60 460.10C682.48 460.74 684.06 461.18 685.00 463.00C686.91 466.69 684.55 477.34 684.30 484.60C684.05 491.97 683.77 500.04 683.50 506.90C683.27 512.79 683.83 519.86 682.80 523.30C682.27 525.06 681.47 526.89 680.60 527.00C679.74 527.11 678.49 525.04 677.60 524.00C676.77 523.03 676.13 522.00 675.40 521.00C675.87 523.73 675.94 526.59 676.80 529.20C677.67 531.82 678.79 535.09 680.60 536.70C682.16 538.10 684.74 539.19 686.50 538.90C688.19 538.62 689.50 536.43 691.00 535.20C694.07 537.77 697.16 539.51 700.20 542.90C704.32 547.49 708.40 554.89 712.40 561.20C716.57 567.77 721.33 575.06 724.70 581.60C727.62 587.26 730.52 593.41 731.80 598.00C732.66 601.10 732.53 603.40 732.90 606.10C726.07 605.43 719.89 605.21 712.40 604.10C703.19 602.74 691.96 600.37 681.80 598.00C671.56 595.61 660.29 592.83 651.20 589.80C643.63 587.27 636.75 584.60 630.80 581.60C625.80 579.09 622.00 576.20 617.60 573.50C618.60 570.77 619.18 567.93 620.60 565.30C622.14 562.45 624.45 559.20 626.70 557.10C628.61 555.31 630.83 554.43 632.90 553.10C633.23 551.03 633.49 549.22 633.90 546.90C634.43 543.92 634.58 539.40 635.90 536.70C636.97 534.50 638.90 533.23 640.40 531.50C641.40 533.70 642.06 536.31 643.40 538.10C644.60 539.70 646.21 541.46 647.80 541.90C649.21 542.29 651.02 541.96 652.30 541.10C653.87 540.04 655.14 537.47 656.00 535.20C656.99 532.60 657.28 528.89 657.50 526.20C657.68 524.03 657.50 522.27 657.50 520.30C656.50 522.27 655.42 524.36 654.50 526.20C653.70 527.80 653.30 530.36 652.30 530.70C651.48 530.98 650.01 530.30 649.30 529.20C647.79 526.89 648.83 519.77 648.60 514.30C648.32 507.61 647.78 499.16 647.80 492.00C647.82 485.33 647.55 477.71 648.60 472.70C649.31 469.32 650.73 467.23 651.80 464.50Z" fill="none" stroke="#231f20" stroke-width="1.3" />
<path d="M700.50 444.50C703.03 447.73 705.47 451.24 708.10 454.20C710.55 456.97 713.84 459.22 715.70 461.80C717.22 463.90 718.88 466.26 718.90 468.20C718.91 469.80 717.88 471.52 716.80 472.60C715.72 473.68 713.78 474.25 712.40 474.70C711.27 475.07 710.27 475.10 709.20 475.30C710.27 476.20 711.12 477.24 712.40 478.00C713.91 478.89 715.97 479.84 717.80 480.10C719.57 480.35 721.74 480.35 723.20 479.60C724.61 478.88 725.97 477.42 726.50 475.80C727.16 473.80 725.57 470.69 725.90 468.20C726.24 465.65 727.10 462.53 728.60 460.70C729.95 459.06 731.97 457.85 734.10 457.40C736.57 456.88 740.06 457.89 742.70 458.50C745.05 459.04 747.32 459.72 749.20 460.70C750.86 461.57 752.07 462.83 753.50 463.90C753.20 461.50 752.47 459.10 752.60 456.70C752.73 454.26 753.12 451.51 754.30 449.40C755.50 447.26 757.65 445.23 759.80 444.00C761.93 442.78 764.60 441.65 767.10 442.00C770.08 442.42 773.71 444.80 776.30 447.60C779.49 451.05 782.02 456.90 783.70 462.20C785.49 467.85 785.39 474.19 786.40 480.60C787.50 487.63 788.68 495.52 790.10 502.70C791.46 509.60 793.58 517.17 794.70 522.90C795.52 527.10 796.41 530.49 796.50 533.90C796.58 536.86 795.90 539.43 795.60 542.20C787.97 541.57 779.90 541.13 772.70 540.30C766.22 539.56 760.38 538.96 754.30 537.60C748.11 536.21 741.36 534.35 735.90 532.00C731.12 529.94 726.97 527.89 723.10 524.70C718.94 521.27 714.50 515.93 712.00 511.80C710.11 508.67 709.60 505.73 708.40 502.70C708.47 501.30 708.75 500.04 708.60 498.50C708.41 496.56 708.03 493.83 707.00 492.00C706.02 490.26 704.11 488.72 702.70 487.70C701.62 486.92 700.57 486.63 699.50 486.10C699.67 487.37 699.84 488.59 700.00 489.90C700.17 491.29 700.68 493.03 700.50 494.20C700.36 495.08 700.14 496.09 699.50 496.40C698.62 496.83 696.40 495.89 695.10 495.30C693.89 494.76 692.97 493.83 691.90 493.10C692.10 490.27 692.22 487.81 692.50 484.60C692.87 480.38 693.35 474.68 694.00 470.00C694.60 465.63 695.14 461.59 696.20 457.40C697.29 453.08 699.07 448.80 700.50 444.50Z" fill="url(#gLV2)" stroke="#231f20" stroke-width="1.3" />
<path d="M691.00 494.00C692.03 495.50 692.61 497.27 694.10 498.50C695.92 500.01 699.27 501.08 701.60 501.80C703.51 502.39 705.78 502.73 707.00 502.80C707.62 502.83 707.93 502.73 708.40 502.70" fill="none" stroke="#231f20" stroke-width="1.3" />
<path d="M642.60 462.30C642.13 469.73 641.68 477.17 641.20 484.60C640.72 492.03 639.83 499.46 639.70 506.90C639.57 514.33 639.37 523.50 640.40 529.20C641.07 532.90 642.40 535.13 643.40 538.10" fill="none" stroke="#231f20" stroke-width="1.3" />
<path d="M675.40 521.00C675.87 523.73 676.33 526.47 676.80 529.20" fill="none" stroke="#231f20" stroke-width="1.3" />
<path d="M691.00 535.20C691.50 532.20 692.28 529.78 692.50 526.20C692.82 520.99 691.72 513.57 691.70 506.90C691.68 499.74 692.09 491.76 692.50 484.60C692.88 477.93 693.22 470.73 694.00 465.30C694.58 461.28 695.23 458.33 696.20 454.90C697.19 451.40 699.18 446.40 699.90 444.50C700.18 443.77 700.30 443.50 700.50 443.00" fill="none" stroke="#231f20" stroke-width="1.3" />
<path d="M642.60 462.30C644.83 459.83 646.57 456.85 649.30 454.90C652.21 452.82 656.05 451.51 659.70 450.40C663.47 449.25 667.75 448.42 671.60 448.20C675.17 447.99 678.72 448.14 682.00 448.90C685.17 449.64 688.73 450.72 691.00 452.60C693.06 454.30 693.93 457.07 695.40 459.30" fill="none" stroke="#231f20" stroke-width="1.3" />

</g>
<path d="M309.60 272.70C310.70 269.97 310.94 266.12 312.90 264.50C314.80 262.93 318.33 262.66 321.00 262.90C323.76 263.15 326.43 265.58 329.20 266.10C331.86 266.60 334.80 265.51 337.30 266.10C339.68 266.66 342.05 268.07 343.90 269.40C345.54 270.58 346.27 271.78 348.00 273.50C350.95 276.44 356.11 281.53 360.00 285.40C363.70 289.08 367.26 292.43 370.80 296.20C374.46 300.09 378.23 304.13 381.60 308.40C385.00 312.70 388.18 317.20 391.10 321.90C394.06 326.66 396.71 331.80 399.20 336.80C401.64 341.70 403.89 346.50 405.90 351.60C407.97 356.83 409.54 362.24 411.40 367.80C413.37 373.69 415.47 380.03 417.40 386.00C419.26 391.76 421.16 397.31 422.80 403.00C424.43 408.64 425.90 414.32 427.20 420.00C428.49 425.65 429.59 431.24 430.60 437.00C431.63 442.90 432.46 449.08 433.30 455.00C434.12 460.74 434.83 465.80 435.60 472.00C436.53 479.48 437.47 488.25 438.40 496.80C439.40 505.94 440.47 515.73 441.40 525.20C442.33 534.66 443.32 543.89 444.00 553.60C444.71 563.80 445.22 574.02 445.50 585.00C445.80 597.11 447.08 614.09 445.60 623.20C444.74 628.49 442.40 630.47 441.50 635.40C440.20 642.51 440.80 658.79 440.50 662.10C440.43 662.86 440.66 663.13 440.30 663.50C439.51 664.31 435.90 664.23 433.70 664.60C430.47 655.67 427.31 646.49 424.00 637.80C420.83 629.48 416.59 621.14 414.30 613.50C412.35 607.00 411.63 600.85 410.50 595.00C409.49 589.74 408.59 585.75 407.80 580.00C406.74 572.33 406.19 562.08 405.20 553.00C404.19 543.75 403.11 534.05 401.80 525.00C400.56 516.42 398.95 507.75 397.60 500.00C396.43 493.26 395.51 487.50 394.20 481.10C392.83 474.44 391.18 467.55 389.50 460.80C387.81 454.02 386.12 447.23 384.10 440.50C382.06 433.73 379.56 427.04 377.30 420.30C375.03 413.54 372.77 406.69 370.50 400.00C368.27 393.43 366.20 386.50 363.80 380.50C361.67 375.17 359.67 370.10 357.00 365.70C354.57 361.69 351.13 358.87 348.70 355.00C346.18 350.99 344.67 346.09 342.20 342.00C339.79 338.00 336.87 334.27 334.10 330.70C331.46 327.29 328.59 324.28 326.00 321.00C323.46 317.78 321.09 314.29 318.70 311.20C316.50 308.35 313.97 305.90 312.20 303.10C310.55 300.49 309.15 297.55 308.30 295.00C307.60 292.90 307.08 290.80 307.10 289.00C307.12 287.53 307.35 286.10 308.00 285.00C308.62 283.95 310.39 283.64 310.80 282.50C311.30 281.12 310.21 278.72 310.00 277.00C309.82 275.48 309.73 274.13 309.60 272.70Z" fill="#c8234f"/>
<path d="M808.40 291.00C809.60 291.27 810.67 291.50 812.00 291.80C813.66 292.18 815.51 292.35 817.60 293.10C820.55 294.16 824.58 295.88 827.80 298.20C831.42 300.81 834.68 304.77 838.00 308.40C841.49 312.21 844.88 316.30 848.20 320.60C851.69 325.11 855.37 329.85 858.40 334.90C861.48 340.04 864.33 346.36 866.50 351.20C868.19 354.96 868.91 357.64 870.60 361.40C872.79 366.26 877.08 374.17 878.80 377.80C879.64 379.57 880.00 380.47 880.60 381.80L876.20 388.00L884.70 398.20L880.80 408.60L890.00 420.60L888.10 431.90L888.90 451.40L897.10 464.40L899.50 483.90L900.30 500.00L902.50 511.10L909.80 535.40L913.00 561.40L920.30 580.90L922.30 590.00L922.30 593.00L919.40 604.90L926.00 616.70L928.30 633.10L925.30 637.50L929.00 643.50L926.00 662.80L916.40 682.10L914.90 659.80L921.60 650.90L914.90 640.50L913.40 630.10L917.90 616.70L909.70 607.80L905.20 590.00L904.10 585.70L908.90 572.80L897.60 548.40L898.40 522.50L889.50 498.10L889.50 490.00L889.80 470.90L881.60 459.50L877.60 436.80L872.70 417.30L866.20 396.20L861.50 381.50L855.30 365.50L856.30 347.10L850.20 336.90L851.20 333.90C850.20 332.53 849.57 331.58 848.20 329.80C845.51 326.30 840.39 319.14 835.90 314.50C831.50 309.95 826.41 305.71 821.60 302.20C817.24 299.02 809.76 296.53 808.40 294.10C807.79 293.01 808.40 292.03 808.40 291.00Z" fill="#c8234f"/>
<rect x="438.6" y="698" width="3" height="29.3" fill="#c8234f"/>
<path d="M440 680.4 L432.5 700 L448 700 Z" fill="#c8234f"/>
<rect x="915.8" y="683.6" width="3.4" height="29.5" fill="#c8234f"/>
<path d="M910.2 712 L925.3 712 L917.7 730.3 Z" fill="#c8234f"/>

<text id="t1" x="146.00" y="60.30" textLength="204.00" lengthAdjust="spacingAndGlyphs" style="font-family:&quot;Liberation Sans&quot;,sans-serif" font-size="24" font-weight="bold" fill="#231f20">Diastole: inflation</text>
<text id="t2" x="147.00" y="89.90" textLength="183.60" lengthAdjust="spacingAndGlyphs" style="font-family:&quot;Liberation Sans&quot;,sans-serif" font-size="24"  fill="#231f20">Augmentation of</text>
<text id="t3" x="146.00" y="119.50" textLength="186.20" lengthAdjust="spacingAndGlyphs" style="font-family:&quot;Liberation Sans&quot;,sans-serif" font-size="24"  fill="#231f20">diastolic pressure</text>
<text id="t4" x="145.80" y="179.70" textLength="208.60" lengthAdjust="spacingAndGlyphs" style="font-family:&quot;Liberation Sans&quot;,sans-serif" font-size="24"  fill="#231f20">Coronary perfusion</text>
<text id="t5" x="659.00" y="66.50" textLength="199.20" lengthAdjust="spacingAndGlyphs" style="font-family:&quot;Liberation Sans&quot;,sans-serif" font-size="24" font-weight="bold" fill="#231f20">Systole: deflation</text>
<text id="t6" x="660.00" y="96.40" textLength="212.20" lengthAdjust="spacingAndGlyphs" style="font-family:&quot;Liberation Sans&quot;,sans-serif" font-size="24"  fill="#231f20">Afterload reduction</text>
<text id="t7" x="659.50" y="155.60" textLength="140.00" lengthAdjust="spacingAndGlyphs" style="font-family:&quot;Liberation Sans&quot;,sans-serif" font-size="24"  fill="#231f20">Cardiac work</text>
<text id="t8" x="658.00" y="185.90" textLength="204.80" lengthAdjust="spacingAndGlyphs" style="font-family:&quot;Liberation Sans&quot;,sans-serif" font-size="24"  fill="#231f20">Myocardial oxygen</text>
<text id="t9" x="659.50" y="215.80" textLength="142.90" lengthAdjust="spacingAndGlyphs" style="font-family:&quot;Liberation Sans&quot;,sans-serif" font-size="24"  fill="#231f20">consumption</text>
<text id="t10" x="659.00" y="245.20" textLength="161.00" lengthAdjust="spacingAndGlyphs" style="font-family:&quot;Liberation Sans&quot;,sans-serif" font-size="24"  fill="#231f20">Cardiac output</text>
<text id="t11" x="328.60" y="721.00" textLength="91.80" lengthAdjust="spacingAndGlyphs" style="font-family:&quot;Liberation Sans&quot;,sans-serif" font-size="24"  fill="#231f20">Inflation</text>
<text id="t12" x="795.00" y="721.10" textLength="99.40" lengthAdjust="spacingAndGlyphs" style="font-family:&quot;Liberation Sans&quot;,sans-serif" font-size="24"  fill="#231f20">Deflation</text>
<path d="M372.1 179.8 V162.7 M368.1 166.5 L372.1 162.7 L376.1 166.5" fill="none" stroke="#231f20" stroke-width="1.7" stroke-linejoin="miter"/>
<path d="M816.6 138.5 V155.5 M812.6 151.7 L816.6 155.5 L820.6 151.7" fill="none" stroke="#231f20" stroke-width="1.7" stroke-linejoin="miter"/>
<path d="M818.6 197.0 V214.6 M814.6 210.8 L818.6 214.6 L822.6 210.8" fill="none" stroke="#231f20" stroke-width="1.7" stroke-linejoin="miter"/>
<path d="M837.8 245.0 V229.0 M833.8 232.8 L837.8 229.0 L841.8 232.8" fill="none" stroke="#231f20" stroke-width="1.7" stroke-linejoin="miter"/>

</svg>
<div id="frame"></div>
</body></html>
